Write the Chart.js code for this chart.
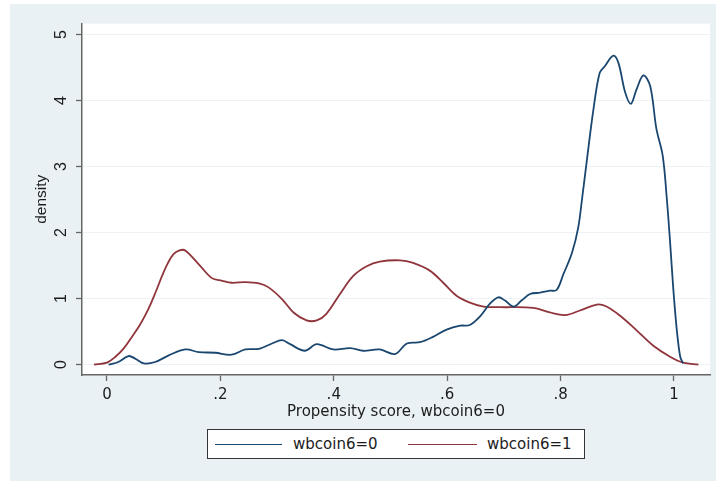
<!DOCTYPE html>
<html>
<head>
<meta charset="utf-8">
<script src="https://cdn.jsdelivr.net/npm/chart.js@4.4.1/dist/chart.umd.min.js"></script>
<style>
  html, body { margin: 0; padding: 0; background: #ffffff; }
  body { width: 716px; height: 481px; position: relative; overflow: hidden; }
  #chart { position: absolute; left: 10px; top: 4px; }
  #legend {
    position: absolute; left: 207px; top: 429px; width: 376px; height: 28px;
    border: 1px solid #333; background: #fff;
    font-family: 'DejaVu Sans', sans-serif; font-size: 15px; color: #1c1c1c;
  }
  #legend .swatch { position: absolute; top: 14px; height: 0; border-top: 1.6px solid; }
  #legend .label { position: absolute; top: 4px; line-height: 20px; white-space: nowrap; }
</style>
</head>
<body>
<canvas id="chart" width="706" height="477"></canvas>
<div id="legend"></div>
<script>
const SERIES_NAMES = ['wbcoin6=0', 'wbcoin6=1'];
const SERIES_COLORS = ['#1a476f', '#90353b'];

const X_TICKS = [0, 0.2, 0.4, 0.6, 0.8, 1];
const X_TICK_LABELS = ['0', '.2', '.4', '.6', '.8', '1'];
const Y_TICKS = [0, 1, 2, 3, 4, 5];
const Y_TICK_LABELS = ['0', '1', '2', '3', '4', '5'];

const X_TITLE = 'Propensity score, wbcoin6=0';
const Y_TITLE = 'density';

// wbcoin6=0
const blueX = [0.003, 0.02, 0.038, 0.05, 0.065, 0.085, 0.109, 0.138, 0.162, 0.191, 0.22, 0.244, 0.268, 0.291, 0.309, 0.323, 0.349, 0.37, 0.399, 0.429, 0.452, 0.481, 0.508, 0.529, 0.552, 0.575, 0.599, 0.623, 0.64, 0.658, 0.675, 0.69, 0.702, 0.717, 0.731, 0.746, 0.764, 0.781, 0.793, 0.805, 0.82, 0.831, 0.838, 0.846, 0.858, 0.869, 0.878, 0.893, 0.902, 0.914, 0.924, 0.934, 0.946, 0.958, 0.969, 0.98, 0.987, 0.993, 0.999, 1.005, 1.011, 1.016];
const blueY = [0.00, 0.04, 0.13, 0.09, 0.02, 0.04, 0.14, 0.23, 0.19, 0.18, 0.15, 0.23, 0.24, 0.32, 0.37, 0.31, 0.21, 0.31, 0.23, 0.25, 0.21, 0.23, 0.16, 0.32, 0.34, 0.42, 0.53, 0.59, 0.60, 0.73, 0.92, 1.02, 0.97, 0.88, 0.97, 1.07, 1.09, 1.12, 1.13, 1.37, 1.69, 2.07, 2.52, 3.07, 3.87, 4.42, 4.52, 4.68, 4.57, 4.12, 3.95, 4.17, 4.38, 4.22, 3.57, 3.17, 2.55, 1.87, 1.12, 0.52, 0.12, 0.02];

// wbcoin6=1
const redX = [-0.023, 0.0, 0.015, 0.03, 0.044, 0.058, 0.073, 0.086, 0.097, 0.107, 0.117, 0.128, 0.138, 0.162, 0.185, 0.203, 0.22, 0.244, 0.268, 0.285, 0.309, 0.329, 0.352, 0.37, 0.387, 0.411, 0.434, 0.458, 0.481, 0.517, 0.54, 0.57, 0.593, 0.617, 0.64, 0.664, 0.693, 0.752, 0.781, 0.808, 0.834, 0.864, 0.881, 0.905, 0.934, 0.963, 0.993, 1.016, 1.043];
const redY = [0.00, 0.03, 0.12, 0.25, 0.42, 0.60, 0.84, 1.10, 1.34, 1.53, 1.67, 1.73, 1.73, 1.52, 1.31, 1.27, 1.24, 1.25, 1.23, 1.17, 0.99, 0.79, 0.67, 0.67, 0.77, 1.07, 1.34, 1.49, 1.56, 1.58, 1.54, 1.42, 1.24, 1.04, 0.94, 0.88, 0.87, 0.86, 0.79, 0.75, 0.82, 0.91, 0.88, 0.74, 0.52, 0.29, 0.12, 0.03, 0.00];

const OUTER_BG = '#eaf1f4';
const AXIS_COLOR = '#666666';
const TEXT_COLOR = '#1c1c1c';

function toPoints(xs, ys) {
  return xs.map((x, i) => ({ x, y: ys[i] }));
}

function createDataset(label, color, xs, ys) {
  return {
    label,
    data: toPoints(xs, ys),
    borderColor: color,
    backgroundColor: color,
    borderWidth: 1.8,
    pointRadius: 0,
    showLine: true,
    tension: 0.35,
    fill: false
  };
}

const backgroundPlugin = {
  id: 'backgrounds',
  beforeDraw(chart) {
    const { ctx, chartArea } = chart;
    ctx.save();
    ctx.fillStyle = OUTER_BG;
    ctx.fillRect(0, 0, chart.width, chart.height);
    ctx.fillStyle = '#ffffff';
    ctx.fillRect(chartArea.left, chartArea.top, chartArea.right - chartArea.left, chartArea.bottom - chartArea.top);
    ctx.restore();
  }
};

new Chart(document.getElementById('chart'), {
  type: 'scatter',
  data: {
    datasets: [
      createDataset(SERIES_NAMES[0], SERIES_COLORS[0], blueX, blueY),
      createDataset(SERIES_NAMES[1], SERIES_COLORS[1], redX, redY)
    ]
  },
  options: {
    responsive: false,
    animation: false,
    layout: { padding: { left: 0, top: 16, right: 6, bottom: 56 } },
    plugins: {
      legend: { display: false },
      tooltip: { enabled: false }
    },
    scales: {
      x: {
        type: 'linear',
        min: -0.044,
        max: 1.0635,
        afterFit: (scale) => { scale.height = 50; },
        afterBuildTicks: (scale) => { scale.ticks = X_TICKS.map((value) => ({ value })); },
        ticks: {
          color: TEXT_COLOR,
          padding: 5,
          font: { family: 'DejaVu Sans', size: 15 },
          callback: (value) => X_TICK_LABELS[X_TICKS.indexOf(value)]
        },
        grid: { drawOnChartArea: false, drawTicks: true, tickLength: 6, tickColor: AXIS_COLOR, tickWidth: 1.3 },
        border: { color: AXIS_COLOR, width: 1.5 },
        title: {
          display: true,
          text: X_TITLE,
          color: TEXT_COLOR,
          font: { family: 'DejaVu Sans', size: 15 },
          padding: { top: 0, bottom: 4 }
        }
      },
      y: {
        type: 'linear',
        min: -0.157,
        max: 5.165,
        afterFit: (scale) => { scale.width = 72; },
        afterBuildTicks: (scale) => { scale.ticks = Y_TICKS.map((value) => ({ value })); },
        ticks: {
          color: TEXT_COLOR,
          padding: 10,
          minRotation: 90,
          maxRotation: 90,
          crossAlign: 'center',
          font: { family: 'Liberation Sans', size: 16 },
          callback: (value) => Y_TICK_LABELS[Y_TICKS.indexOf(value)]
        },
        grid: { color: 'rgba(214,226,233,0.45)', lineWidth: 1, drawTicks: true, tickLength: 6, tickColor: AXIS_COLOR, tickWidth: 1.3 },
        border: { color: AXIS_COLOR, width: 1.5 },
        title: {
          display: true,
          text: Y_TITLE,
          color: TEXT_COLOR,
          font: { family: 'Liberation Sans', size: 15.5 },
          padding: { top: 22, bottom: 0 }
        }
      }
    }
  },
  plugins: [backgroundPlugin]
});

// legend box below the plot, built from the series names and colours
const legend = document.getElementById('legend');
const legendSlots = [
  { line: 7, width: 67, text: 85 },
  { line: 200, width: 69, text: 279 }
];
SERIES_NAMES.forEach((name, i) => {
  const slot = legendSlots[i];
  const swatch = document.createElement('div');
  swatch.className = 'swatch';
  swatch.style.left = slot.line + 'px';
  swatch.style.width = slot.width + 'px';
  swatch.style.borderColor = SERIES_COLORS[i];
  legend.appendChild(swatch);
  const label = document.createElement('span');
  label.className = 'label';
  label.style.left = slot.text + 'px';
  label.textContent = name;
  legend.appendChild(label);
});
</script>
</body>
</html>
